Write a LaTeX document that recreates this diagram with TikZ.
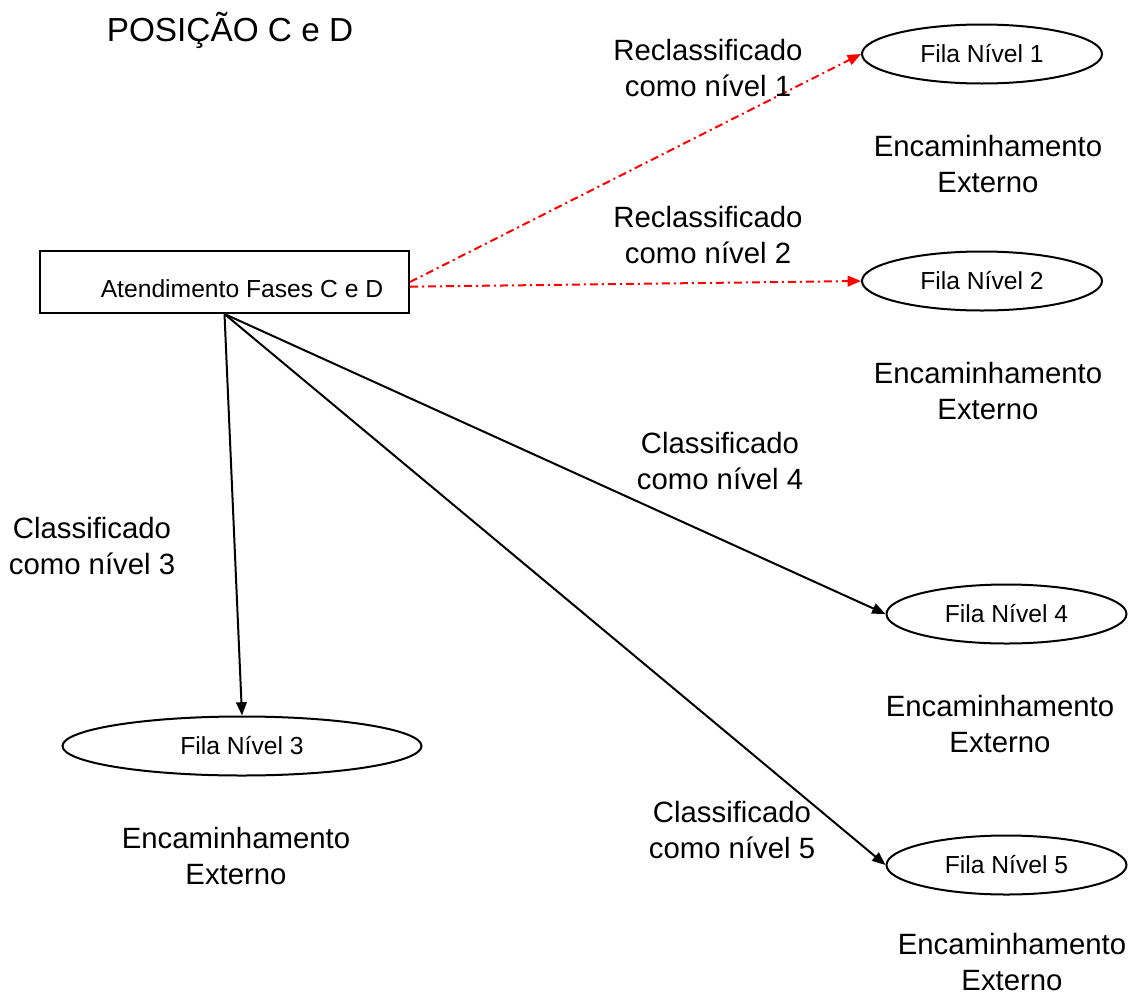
\documentclass[tikz,border=0pt]{standalone}
\usepackage{fontspec}
\setmainfont{Liberation Sans}
\usetikzlibrary{arrows.meta,shapes.geometric}

\tikzset{
  fila/.style={draw, ellipse, minimum width=180pt, minimum height=44.25pt, inner sep=0pt, font=\fontsize{18.5}{22}\selectfont},
  rotulo/.style={align=center, font=\fontsize{22}{27}\selectfont},
  seta/.style={-{Triangle[length=10pt,width=8pt]}},
  setavermelha/.style={seta, color=red, dash pattern=on 6pt off 3pt on 1.5pt off 3pt},
}

\begin{document}
\begin{tikzpicture}[x=0.75pt,y=0.75pt,yscale=-1,xscale=1,line width=1.5pt]
%set diagram size
\path[use as bounding box] (0,0) rectangle (1139,996);

%Text: title
\node[font=\fontsize{25}{30}\selectfont] (titulo) at (230,30) {POSIÇÃO C e D};
%Shape: Rectangle
\node[draw, minimum width=276.75pt, minimum height=46.5pt, inner sep=0pt] (atend) at (224.5,282) {};
\node[anchor=base, font=\fontsize{18.5}{22}\selectfont] (atendtxt) at (242,297) {Atendimento Fases C e D};

%Shape: Ellipse
\node[fila] (n1) at (982,54) {Fila Nível 1};
\node[fila] (n2) at (982,281) {Fila Nível 2};
\node[fila, minimum width=269.25pt] (n3) at (242,746) {Fila Nível 3};
\node[fila] (n4) at (1006.5,614) {Fila Nível 4};
\node[fila] (n5) at (1006.5,865) {Fila Nível 5};

%Straight Lines: red
\draw[setavermelha] (atend.east) -- (n1.west);
\draw[setavermelha] ([yshift=3.5pt]atend.east) -- (n2.west);
%Straight Lines: black
\draw[seta] (atend.south) -- (n3.north);
\draw[seta] (atend.south) -- (n4.west);
\draw[seta] (atend.south) -- (n5.west);

%Text: labels
\node[rotulo] (r1) at (708,68) {Reclassificado\\como nível 1};
\node[rotulo] (r2) at (708,235) {Reclassificado\\como nível 2};
\node[rotulo] (c3) at (92,546) {Classificado\\como nível 3};
\node[rotulo] (c4) at (720,461) {Classificado\\como nível 4};
\node[rotulo] (c5) at (732,830) {Classificado\\como nível 5};
%Text: external
\node[rotulo] (e1) at (988,164) {Encaminhamento\\Externo};
\node[rotulo] (e2) at (988,391) {Encaminhamento\\Externo};
\node[rotulo] (e3) at (236,856) {Encaminhamento\\Externo};
\node[rotulo] (e4) at (1000,724) {Encaminhamento\\Externo};
\node[rotulo] (e5) at (1012,962) {Encaminhamento\\Externo};

\end{tikzpicture}
\end{document}
